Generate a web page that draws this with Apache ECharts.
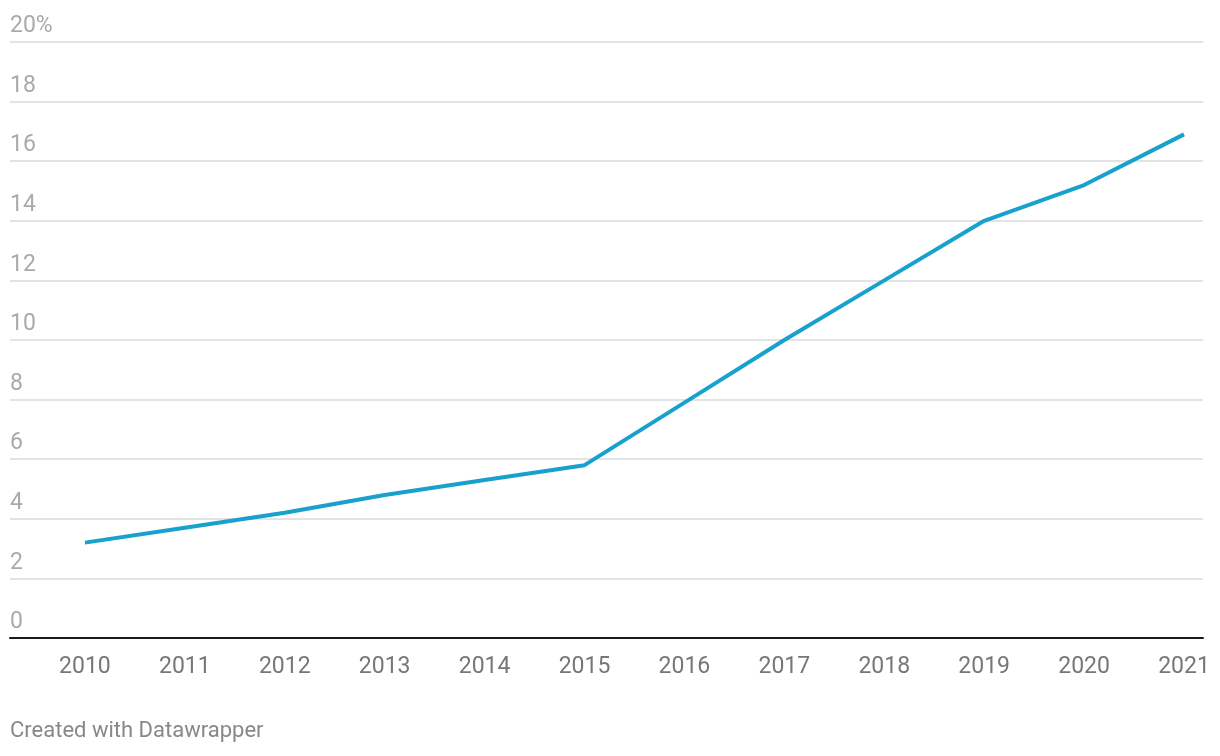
<!DOCTYPE html>
<html>
<head>
<meta charset="utf-8">
<script src="https://cdn.jsdelivr.net/npm/echarts@6/dist/echarts.min.js"></script>
<style>
html,body{margin:0;padding:0;background:#fff;}
#chart{width:1220px;height:756px;}
</style>
</head>
<body>
<div id="chart"></div>
<script>
const years = [2010, 2011, 2012, 2013, 2014, 2015, 2016, 2017, 2018, 2019, 2020, 2021];
const values = [3.2, 3.7, 4.2, 4.8, 5.3, 5.8, 7.9, 10.0, 12.0, 14.0, 15.2, 16.9];
const yTicks = [0, 2, 4, 6, 8, 10, 12, 14, 16, 18, 20];

const chart = echarts.init(document.getElementById('chart'), null, {renderer: 'canvas'});
const font = 'Roboto, "Noto Sans", sans-serif';
chart.setOption({
  animation: false,
  backgroundColor: '#fff',
  grid: {left: 10, right: 17, top: 42, bottom: 118, containLabel: false},
  xAxis: {
    type: 'value',
    min: 2009.25,
    max: 2021.19,
    splitLine: {show: false},
    axisLine: {show: true, onZero: false, lineStyle: {color: '#1a1a1a', width: 2}},
    axisTick: {show: false},
    axisLabel: {
      show: true,
      customValues: years,
      formatter: v => String(v),
      color: '#777',
      fontSize: 23,
      fontFamily: font,
      margin: 18
    }
  },
  yAxis: {
    type: 'value',
    min: 0,
    max: 20,
    interval: 2,
    axisLine: {show: false},
    axisTick: {show: false},
    splitLine: {show: true, lineStyle: {color: '#e3e3e3', width: 2}},
    axisLabel: {
      inside: true,
      margin: 0,
      align: 'left',
      verticalAlign: 'bottom',
      lineHeight: 23,
      padding: [0, 0, 4, 0],
      color: '#aaa',
      fontSize: 23,
      fontFamily: font,
      formatter: v => (v === yTicks[yTicks.length - 1] ? v + '%' : String(v))
    }
  },
  series: [{
    type: 'line',
    data: years.map((y, i) => [y, values[i]]),
    showSymbol: false,
    lineStyle: {color: '#18a1cd', width: 4},
    itemStyle: {color: '#18a1cd'},
    z: 5
  }],
  graphic: [{
    type: 'text',
    left: 10,
    top: 720,
    style: {text: 'Created with Datawrapper', fill: '#888', fontSize: 22, fontFamily: font}
  }]
});
</script>
</body>
</html>
